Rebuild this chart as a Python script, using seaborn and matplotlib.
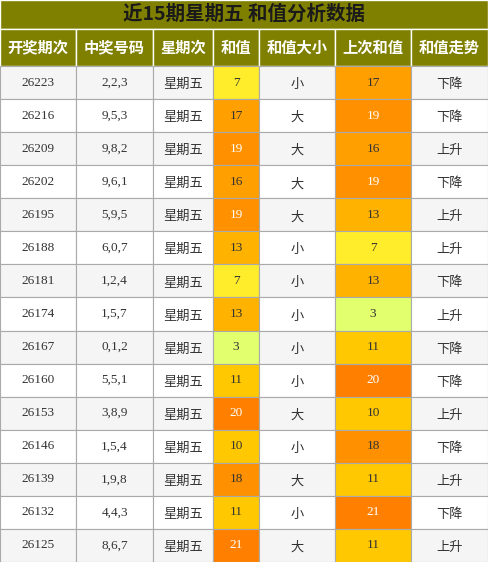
import matplotlib
matplotlib.use("Agg")
import matplotlib.pyplot as plt
import seaborn as sns
from matplotlib.patches import Rectangle

sns.set_style("white")
plt.rcParams['font.family'] = ['Noto Sans CJK SC', 'DejaVu Sans']

title = "近15期星期五 和值分析数据"
headers = ["开奖期次", "中奖号码", "星期次", "和值", "和值大小", "上次和值", "和值走势"]
periods = ["26223", "26216", "26209", "26202", "26195", "26188", "26181", "26174",
           "26167", "26160", "26153", "26146", "26139", "26132", "26125"]
numbers = ["2,2,3", "9,5,3", "9,8,2", "9,6,1", "5,9,5", "6,0,7", "1,2,4", "1,5,7",
           "0,1,2", "5,5,1", "3,8,9", "1,5,4", "1,9,8", "4,4,3", "8,6,7"]
sums = [7, 17, 19, 16, 19, 13, 7, 13, 3, 11, 20, 10, 18, 11, 21]
sizes = ["小", "大", "大", "大", "大", "小", "小", "小", "小", "小", "大", "小", "大", "小", "大"]
prev_sums = [17, 19, 16, 19, 13, 7, 13, 3, 11, 20, 10, 18, 11, 21, 11]
trends = ["下降", "下降", "上升", "下降", "上升", "上升", "下降", "上升",
          "下降", "下降", "上升", "下降", "上升", "下降", "上升"]

def sum_color(v):
    if v <= 5: return "#e2ff6e"
    if v <= 8: return "#ffec2a"
    if v <= 11: return "#ffc800"
    if v <= 14: return "#ffb300"
    if v <= 17: return "#ff9f00"
    if v <= 19: return "#ff9000"
    return "#ff8000"

W, H = 488, 562
col_x = [0, 76, 153, 213, 259, 335, 411, 488]
title_h, head_h = 29, 37
row_h = (H - title_h - head_h) / len(periods)

fig = plt.figure(figsize=(W / 100, H / 100), dpi=100)
ax = fig.add_axes([0, 0, 1, 1])
ax.set_xlim(0, W)
ax.set_ylim(H, 0)
ax.axis("off")

olive = "#808000"
ax.add_patch(Rectangle((0, 0), W, title_h, facecolor=olive, edgecolor="white", lw=1))
ax.text(W / 2, title_h / 2, title, ha="center", va="center", fontsize=14,
        fontweight="bold", color="#1a1a1a")
for i, h in enumerate(headers):
    x0, x1 = col_x[i], col_x[i + 1]
    ax.add_patch(Rectangle((x0, title_h), x1 - x0, head_h, facecolor=olive,
                           edgecolor="white", lw=1))
    ax.text((x0 + x1) / 2, title_h + head_h / 2, h, ha="center", va="center",
            fontsize=11, fontweight="bold", color="white")

serif = ['Liberation Serif', 'DejaVu Serif']
for r in range(len(periods)):
    y0 = title_h + head_h + r * row_h
    bg = "#f5f5f5" if r % 2 == 0 else "white"
    cells = [periods[r], numbers[r], "星期五", str(sums[r]), sizes[r],
             str(prev_sums[r]), trends[r]]
    for c, txt in enumerate(cells):
        x0, x1 = col_x[c], col_x[c + 1]
        fc, tc = bg, "#333333"
        if c == 3 or c == 5:
            v = sums[r] if c == 3 else prev_sums[r]
            fc = sum_color(v)
            tc = "white" if v >= 19 else "#333333"
        ax.add_patch(Rectangle((x0, y0), x1 - x0, row_h, facecolor=fc,
                               edgecolor="#aaaaaa", lw=0.8))
        fam = serif if c in (0, 1, 3, 5) else ['Noto Sans CJK SC', 'DejaVu Sans']
        ax.text((x0 + x1) / 2, y0 + row_h / 2 + (0 if c in (0, 1, 3, 5) else 2),
                txt, ha="center", va="center", fontsize=9.5, color=tc, family=fam)

fig.savefig("out.png", dpi=100)
